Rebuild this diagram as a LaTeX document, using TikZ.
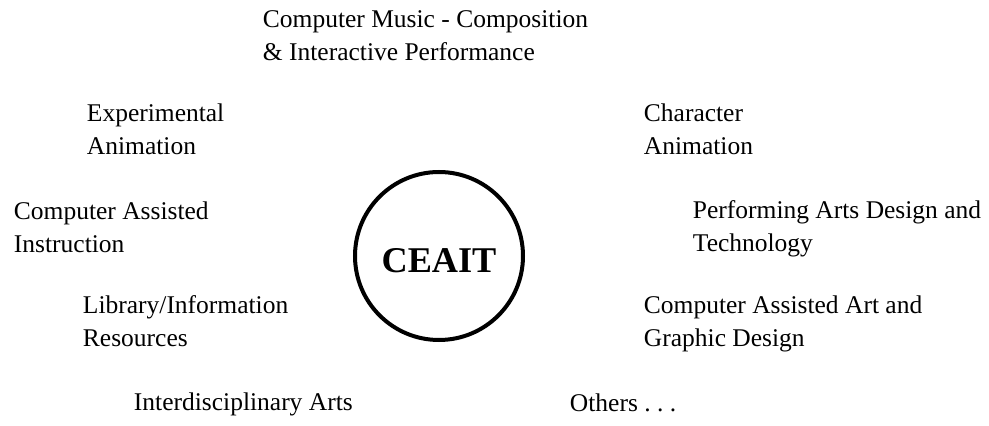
\documentclass[tikz,border=0pt]{standalone}
\usepackage{fontspec}
\setmainfont{Liberation Serif}
\usepackage{tikz}
\usetikzlibrary{positioning}
\tikzset{every picture/.style={line width=0.75pt}}
\tikzset{
  area/.style={anchor=base west, align=left, inner sep=0pt,
    font=\fontsize{10.2}{13.4}\selectfont},
  hub/.style={circle, draw, line width=1.6pt, inner sep=0pt,
    minimum size=67.2pt, text height=13.6pt, text depth=0pt,
    font=\fontsize{14.5}{16}\selectfont\bfseries}
}
\frenchspacing
\begin{document}
\begin{tikzpicture}[x=0.4pt,y=-0.4pt]
\useasboundingbox (0,0) rectangle (989,426);
\node[hub] (ceait) at (439,256) {CEAIT};
% two-line labels sit on the baseline of their last line
\node[area] (music) at (262,61) {Computer Music - Composition\\\& Interactive Performance};
\node[area] (expanim) at (86,155) {Experimental\\Animation};
\node[area] (charanim) at (643,155) {Character\\Animation};
\node[area] (cai) at (13,253) {Computer Assisted\\Instruction};
\node[area] (perfarts) at (692,252) {Performing Arts Design and\\Technology};
\node[area] (library) at (82,347) {Library/Information\\Resources};
\node[area] (artdesign) at (643,347) {Computer Assisted Art and\\Graphic Design};
\node[area] (interdisc) at (133,411) {Interdisciplinary Arts};
\node[area] (others) at (569,412) {Others . . .};
\end{tikzpicture}
\end{document}
